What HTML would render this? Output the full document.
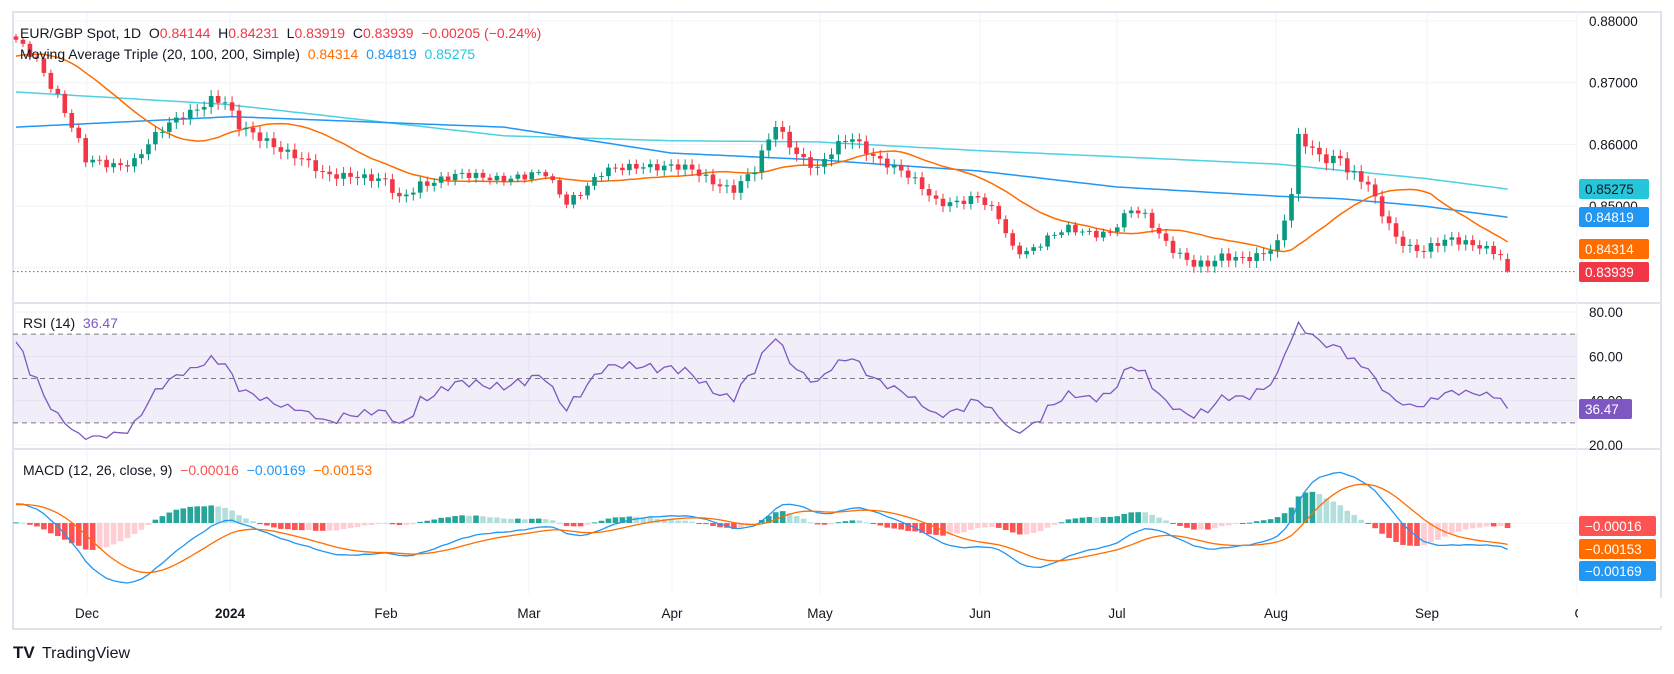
<!DOCTYPE html>
<html><head><meta charset="utf-8">
<style>
html,body{margin:0;padding:0;background:#fff;width:1674px;height:674px;overflow:hidden;font-family:"Liberation Sans",sans-serif;}
svg{display:block}
</style></head>
<body>
<svg id="c" width="1674" height="674" xmlns="http://www.w3.org/2000/svg" font-family="Liberation Sans, sans-serif"></svg>
<script>
const S=document.getElementById('c');let h='';
const X0=13,X1=1577,FR=1661;
const P=[12,303,449,594];
function xi(i){return 16+i*6.97;}
function py(p){return 21+(0.88-p)*6170;}
function ry(v){return 312+(80-v)*2.217;}
let MS=28000;
function my(v){return 523-v*MS;}
const K=[[0,0.8765],[3,0.874],[6,0.868],[9,0.860],[10,0.857],[14,0.857],[17,0.8575],[20,0.861],[24,0.865],[28,0.8675],[30,0.8665],[32,0.8625],[36,0.861],[40,0.858],[44,0.855],[48,0.8555],[53,0.8535],[55,0.851],[58,0.854],[63,0.8545],[68,0.855],[73,0.8545],[76,0.855],[79,0.851],[84,0.855],[90,0.857],[93,0.8565],[97,0.8555],[103,0.853],[106,0.8555],[109,0.863],[112,0.859],[115,0.856],[118,0.8595],[120,0.861],[125,0.857],[128,0.8545],[132,0.851],[138,0.851],[141,0.848],[143,0.8435],[145,0.843],[151,0.846],[157,0.846],[160,0.849],[162,0.848],[165,0.8445],[169,0.8405],[171,0.840],[173,0.8415],[176,0.842],[179,0.8425],[181,0.8435],[182,0.8475],[183,0.8515],[184,0.861],[186,0.8595],[188,0.858],[190,0.858],[191,0.8555],[194,0.853],[196,0.849],[198,0.8455],[200,0.8435],[202,0.8425],[204,0.8435],[206,0.8445],[208,0.8445],[210,0.844],[212,0.8425],[213,0.8418],[214,0.8394]];
function interp(A,i){for(let k=0;k<A.length-1;k++){if(i>=A[k][0]&&i<=A[k+1][0]){const t=(i-A[k][0])/(A[k+1][0]-A[k][0]);return A[k][1]+t*(A[k+1][1]-A[k][1]);}}return A[A.length-1][1];}
const N=215,C=[];
for(let i=0;i<N;i++){let n=i==N-1?0:0.0011*(Math.sin(i*2.3)+Math.sin(i*5.7+1))/2;C.push(interp(K,i)+n);}
const pre=[];for(let j=0;j<60;j++)pre.push(0.864+0.012*j/59+0.0006*Math.sin(j*1.7));
const all=pre.concat(C),off=pre.length;
const ma20=[];for(let i=0;i<N;i++){let s=0;for(let k=0;k<20;k++)s+=all[off+i-k];ma20.push(s/20);}
const M100=[[0,0.8628],[31,0.8645],[70,0.8628],[94,0.8586],[115,0.8575],[138,0.8557],[158,0.8531],[181,0.8516],[190,0.8512],[202,0.8500],[214,0.84819]];
const M200=[[0,0.8685],[30,0.8665],[70,0.8614],[94,0.8606],[115,0.8604],[138,0.859],[158,0.858],[181,0.8568],[202,0.8545],[214,0.85275]];
const rsi=[];{let ag=0,al=0;for(let j=1;j<=14;j++){let d=all[j]-all[j-1];ag+=Math.max(d,0);al+=Math.max(-d,0);}ag/=14;al/=14;
for(let j=15;j<all.length;j++){let d=all[j]-all[j-1];ag=(ag*13+Math.max(d,0))/14;al=(al*13+Math.max(-d,0))/14;if(j>=off)rsi.push(100-100/(1+ag/(al||1e-9)));}}
const rl=rsi[N-1];for(let i=0;i<N;i++)rsi[i]=50+(rsi[i]-50)*0.78;
const sh=36.47-rsi[N-1];for(let i=0;i<N;i++)rsi[i]+=sh*Math.min(1,Math.max(0,(i-200)/14));
const mac=[],sig=[],hist=[];{let e12=all[0],e26=all[0],sg=0;const a12=2/13,a26=2/27,a9=0.2;
for(let j=0;j<all.length;j++){e12+=a12*(all[j]-e12);e26+=a26*(all[j]-e26);let m=e12-e26;sg+=a9*(m-sg);if(j>=off){mac.push(m);sig.push(sg);hist.push(m-sg);}}}
let mx=0;for(let i=0;i<N;i++)mx=Math.max(mx,Math.abs(mac[i]),Math.abs(sig[i]));MS=60/mx;
h+=`<defs><clipPath id="p0"><rect x="${X0}" y="${P[0]}" width="${X1-X0}" height="${P[1]-P[0]}"/></clipPath><clipPath id="p1"><rect x="${X0}" y="${P[1]}" width="${X1-X0}" height="${P[2]-P[1]}"/></clipPath><clipPath id="p2"><rect x="${X0}" y="${P[2]}" width="${X1-X0}" height="${P[3]-P[2]}"/></clipPath></defs>`;
const months=[[87,'Dec'],[230,'2024'],[386,'Feb'],[529,'Mar'],[672,'Apr'],[820,'May'],[980,'Jun'],[1117,'Jul'],[1276,'Aug'],[1427,'Sep'],[1585,'Oct']];
months.forEach(m=>{if(m[0]<X1)h+=`<line x1="${m[0]}" y1="${P[0]}" x2="${m[0]}" y2="${P[3]}" stroke="#f0f3fa"/>`;});
[0.88,0.87,0.86,0.85,0.84].forEach(p=>h+=`<line x1="${X0}" y1="${py(p)}" x2="${X1}" y2="${py(p)}" stroke="#f0f3fa"/>`);
[80,60,40,20].forEach(v=>h+=`<line x1="${X0}" y1="${ry(v)}" x2="${X1}" y2="${ry(v)}" stroke="#f0f3fa"/>`);
h+=`<line x1="${X0}" y1="523" x2="${X1}" y2="523" stroke="#f0f3fa"/>`;
h+=`<rect x="${X0}" y="${P[0]}" width="${FR-X0}" height="${629-P[0]}" fill="none" stroke="#e0e3eb" stroke-width="2"/>`;
h+=`<line x1="${X0}" y1="${P[1]}" x2="${FR}" y2="${P[1]}" stroke="#e0e3eb" stroke-width="2"/><line x1="${X0}" y1="${P[2]}" x2="${FR}" y2="${P[2]}" stroke="#e0e3eb" stroke-width="2"/>`;
h+=`<line x1="${X1}" y1="${P[0]}" x2="${X1}" y2="${P[3]}" stroke="#f0f3fa"/>`;
let g='<g clip-path="url(#p0)">';
g+=`<line x1="${X0}" y1="${py(0.83939)}" x2="${X1}" y2="${py(0.83939)}" stroke="#f23645" stroke-dasharray="1.5,2.5"/>`;
function poly(arr,f,col,w){return `<polyline fill="none" stroke="${col}" stroke-width="${w}" points="${arr.map((v,i)=>xi(i).toFixed(1)+','+f(v).toFixed(1)).join(' ')}"/>`;}
const m100=[],m200=[];for(let i=0;i<N;i++){m100.push(interp(M100,i));m200.push(interp(M200,i));}
g+=poly(m200,py,'#4dd0e1',1.5)+poly(m100,py,'#2196f3',1.5)+poly(ma20,py,'#ff6d00',1.5);
for(let i=0;i<N;i++){let o=i?C[i-1]:0.8775,c=C[i];let w=0.0004+0.0006*Math.abs(Math.sin(i*3.1));let hi=Math.max(o,c)+w,lo=Math.min(o,c)-w*1.2;
if(i==N-1){o=0.84144;hi=0.84231;lo=0.83919;}
const col=c>=o?'#089981':'#f23645';const x=xi(i);
g+=`<line x1="${x}" y1="${py(hi)}" x2="${x}" y2="${py(lo)}" stroke="${col}"/>`;
let y1=py(Math.max(o,c)),y2=py(Math.min(o,c));g+=`<rect x="${x-2.3}" y="${y1}" width="4.6" height="${Math.max(1,y2-y1)}" fill="${col}"/>`;}
g+='</g>';h+=g;
g='<g clip-path="url(#p1)">';
g+=`<rect x="${X0}" y="${ry(70)}" width="${X1-X0}" height="${ry(30)-ry(70)}" fill="rgba(126,87,194,0.1)"/>`;
[70,50,30].forEach(v=>g+=`<line x1="${X0}" y1="${ry(v)}" x2="${X1}" y2="${ry(v)}" stroke="#787b86" stroke-dasharray="5,4"/>`);
g+=poly(rsi,ry,'#7e57c2',1.3)+'</g>';h+=g;
g='<g clip-path="url(#p2)">';
for(let i=0;i<N;i++){const v=hist[i],pv=i?hist[i-1]:0;let col=v>=0?(v>=pv?'#26a69a':'#b2dfdb'):(v<pv?'#ff5252':'#ffcdd2');const y=my(v);g+=`<rect x="${xi(i)-2.8}" y="${Math.min(y,523)}" width="5.6" height="${Math.max(1,Math.abs(y-523))}" fill="${col}"/>`;}
g+=poly(mac,my,'#2196f3',1.3)+poly(sig,my,'#ff6d00',1.3)+'</g>';h+=g;
h+=`<text x="20" y="38" font-size="14" fill="#131722" xml:space="preserve">EUR/GBP Spot, 1D  O<tspan fill="#f23645">0.84144</tspan>  H<tspan fill="#f23645">0.84231</tspan>  L<tspan fill="#f23645">0.83919</tspan>  C<tspan fill="#f23645">0.83939</tspan>  <tspan fill="#f23645">−0.00205 (−0.24%)</tspan></text>`;
h+=`<text x="20" y="59" font-size="14" fill="#131722" xml:space="preserve">Moving Average Triple (20, 100, 200, Simple)  <tspan fill="#ff6d00">0.84314</tspan>  <tspan fill="#2196f3">0.84819</tspan>  <tspan fill="#26c6da">0.85275</tspan></text>`;
h+=`<text x="23" y="328" font-size="14" fill="#131722" xml:space="preserve">RSI (14)  <tspan fill="#7e57c2">36.47</tspan></text>`;
h+=`<text x="23" y="475" font-size="14" fill="#131722" xml:space="preserve">MACD (12, 26, close, 9)  <tspan fill="#ff5252">−0.00016</tspan>  <tspan fill="#2196f3">−0.00169</tspan>  <tspan fill="#ff6d00">−0.00153</tspan></text>`;
[0.88,0.87,0.86,0.85].forEach(p=>h+=`<text x="1589" y="${py(p)+5}" font-size="13.5" fill="#131722">${p.toFixed(5)}</text>`);
[80,60,40,20].forEach(v=>h+=`<text x="1589" y="${ry(v)+5}" font-size="13.5" fill="#131722">${v}.00</text>`);
function box(y,txt,bg,fg,w){h+=`<rect x="1579" y="${y-10}" width="${w||70}" height="20" rx="2" fill="${bg}"/><text x="1585" y="${y+5}" font-size="13.5" fill="${fg}">${txt}</text>`;}
box(189,'0.85275','#26c6da','#131722');box(217,'0.84819','#2196f3','#fff');box(249,'0.84314','#ff6d00','#fff');box(272,'0.83939','#f23645','#fff');
box(409,'36.47','#7e57c2','#fff',53);
box(526,'−0.00016','#ff5252','#fff',77);box(549,'−0.00153','#ff6d00','#fff',77);box(571,'−0.00169','#2196f3','#fff',77);
months.forEach(m=>h+=`<text x="${m[0]}" y="618" font-size="13.5" text-anchor="middle" fill="#131722" ${m[1]=='2024'?'font-weight="bold"':''}>${m[1]}</text>`);
h+=`<rect x="${X1+1}" y="598" width="90" height="28" fill="#fff"/>`;
h+=`<text x="13" y="658" font-size="17" font-weight="bold" fill="#131722">TV</text><text x="42" y="658" font-size="16" fill="#131722">TradingView</text>`;
S.innerHTML=h;
</script>
</body></html>
